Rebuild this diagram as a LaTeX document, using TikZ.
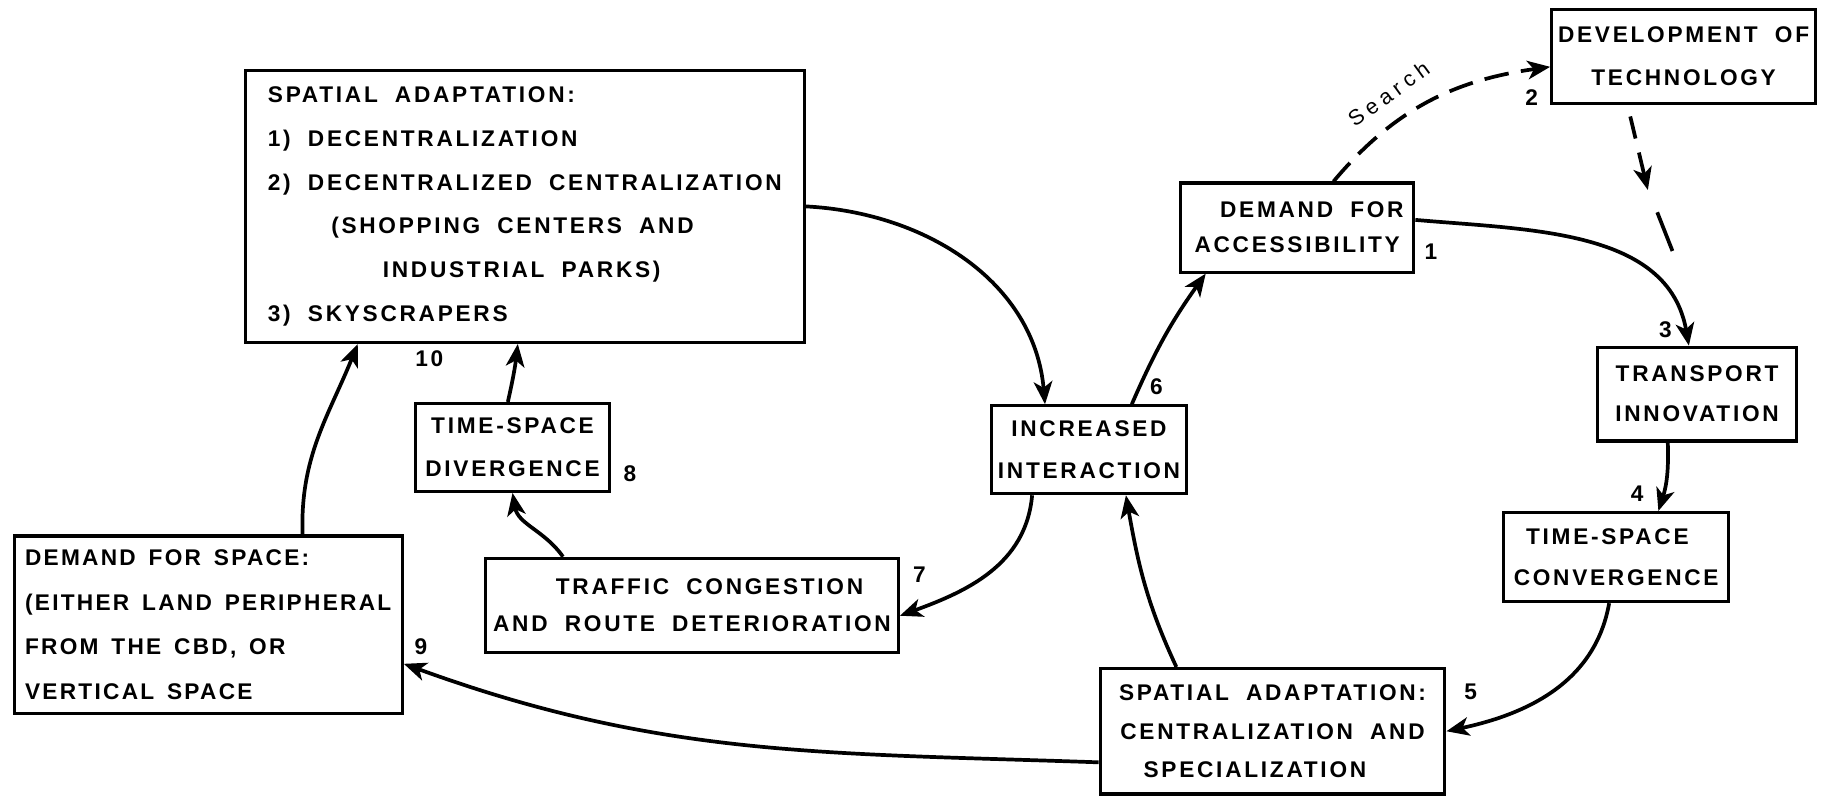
\documentclass[tikz,border=0pt]{standalone}
\usepackage{fontspec}
\setmainfont{Liberation Sans}
\newfontfamily\boxfamily[LetterSpace=12,WordSpace=1.9]{Liberation Sans}
\newfontfamily\tightfamily[LetterSpace=10,WordSpace=1.5]{Liberation Sans}
\newfontfamily\searchfamily[LetterSpace=24]{Liberation Sans}
\usetikzlibrary{arrows.meta,calc}
\newcommand\myboxfont[1]{\boxfamily\bfseries\fontsize{11}{#1}\selectfont}
\begin{document}
\begin{tikzpicture}[x=0.02cm,y=0.02cm,
  box/.style={draw, line width=1.5pt, inner sep=0pt, align=center},
  conn/.style={line width=1.8pt, -{Stealth[length=11pt,width=9pt,inset=3pt]}},
  dconn/.style={line width=1.8pt, dash pattern=on 12pt off 6pt},
  num/.style={font=\myboxfont{13}, inner sep=0pt}]
\useasboundingbox (0,0) rectangle (1568,-688);

% boxes
\node[box, minimum width=9.54cm, minimum height=4.64cm, align=left, font=\myboxfont{21.2pt}] (b10) at (447.5,-176)
  {SPATIAL ADAPTATION:\\
   1) DECENTRALIZATION\\
   2) DECENTRALIZED CENTRALIZATION\\
   \hspace*{1.08cm}(SHOPPING CENTERS AND\\
   \hspace*{1.96cm}INDUSTRIAL PARKS)\\
   3) SKYSCRAPERS};
\node[box, minimum width=4.50cm, minimum height=1.60cm, font=\myboxfont{21pt}] (b2) at (1435.5,-48) {DEVELOPMENT OF\\TECHNOLOGY};
\node[box, minimum width=3.98cm, minimum height=1.52cm, font=\myboxfont{17pt}] (b1) at (1106,-194) {\hspace*{0.5cm}DEMAND FOR\\ACCESSIBILITY};
\node[box, minimum width=3.40cm, minimum height=1.60cm, font=\myboxfont{19.3pt}] (b3) at (1447,-336) {TRANSPORT\\INNOVATION};
\node[box, minimum width=3.84cm, minimum height=1.52cm, font=\myboxfont{20pt}] (b4) at (1378,-475) {TIME-SPACE\hspace*{0.3cm}\\CONVERGENCE};
\node[box, minimum width=5.88cm, minimum height=2.14cm, font=\myboxfont{18.8pt}] (b5) at (1085,-623.5) {SPATIAL ADAPTATION:\\CENTRALIZATION AND\\SPECIALIZATION\hspace*{0.6cm}};
\node[box, minimum width=3.34cm, minimum height=1.50cm, font=\myboxfont{20.5pt}] (b6) at (928.5,-383.5) {INCREASED\\INTERACTION};
\node[box, minimum width=7.04cm, minimum height=1.60cm, font=\myboxfont{18.2pt}] (b7) at (590,-516) {\hspace*{0.6cm}TRAFFIC CONGESTION\\AND ROUTE DETERIORATION};
\node[box, minimum width=3.32cm, minimum height=1.50cm, font=\myboxfont{21pt}] (b8) at (437,-381.5) {TIME-SPACE\\DIVERGENCE};
\node[box, minimum width=6.62cm, minimum height=3.02cm, align=left, font=\tightfamily\bfseries\fontsize{11}{21.6pt}\selectfont] (b9) at (177.5,-532.5)
  {DEMAND FOR SPACE:\\
   (EITHER LAND PERIPHERAL\\
   FROM THE CBD, OR\\
   VERTICAL SPACE};

% numbers
\node[num] (n1) at (1220,-215) {1};
\node[num] (n2) at (1306,-83) {2};
\node[num] (n3) at (1420,-281) {3};
\node[num] (n4) at (1396,-421) {4};
\node[num] (n5) at (1254,-590) {5};
\node[num] (n6) at (986,-330) {6};
\node[num] (n7) at (784,-490) {7};
\node[num] (n8) at (537,-404) {8};
\node[num] (n9) at (359,-551) {9};
\node[num] (n10) at (366,-306) {10};

% Search label
\node[font=\searchfamily\fontsize{10.5}{12}\selectfont, rotate=36, inner sep=0pt] (search) at (1184,-80) {Search};

% solid connectors
\draw[conn] (b10.east) to[out=-3,in=95] ([xshift=-0.75cm]b6.north);
\draw[conn] ([xshift=0.73cm]b6.north) to[bend left=6] ([xshift=-1.56cm]b1.south);
\draw[conn] ([yshift=0.13cm]b1.east) to[out=-5,in=100] ([xshift=-0.14cm]b3.north);
\draw[conn] ([xshift=-0.5cm]b3.south) to[bend left=10] ([xshift=0.72cm]b4.north);
\draw[conn] ([xshift=-0.12cm]b4.south) to[out=-100,in=12] (b5.east);
\draw[conn] ([xshift=-1.64cm]b5.north) to[out=115,in=-80] ([xshift=0.63cm]b6.south);
\draw[conn] ([xshift=-0.97cm]b6.south) to[out=-95,in=20] ([yshift=-0.18cm]b7.east);
\draw[conn] ([xshift=-2.2cm]b7.north) to[out=125,in=-80] (b8.south);
\draw[conn] ([xshift=-0.08cm]b8.north) to[bend right=3] ([xshift=-0.12cm]b10.south);
\draw[conn] ([xshift=1.61cm]b9.north) to[out=92,in=-112] ([xshift=-2.85cm]b10.south);
\draw[conn] ([yshift=-0.53cm]b5.west) to[out=178,in=-20] ([yshift=-0.67cm]b9.east);

% dashed connectors
\draw[dconn, -{Stealth[length=11pt,width=9pt,inset=3pt]}] ([xshift=0.62cm]b1.north) to[out=50,in=188] ([yshift=-0.18cm]b2.west);
\coordinate (dtip) at (1405,-162);
\coordinate (dA) at (1413,-181);
\coordinate (dB) at (1426,-214);
\draw[dconn, dash pattern=on 11pt off 7pt, -{Stealth[length=11pt,width=9pt,inset=3pt]}] ([xshift=-0.91cm,yshift=-0.2cm]b2.south) -- (dtip);
\draw[line width=1.8pt] (dA) -- (dB);
\end{tikzpicture}
\end{document}
